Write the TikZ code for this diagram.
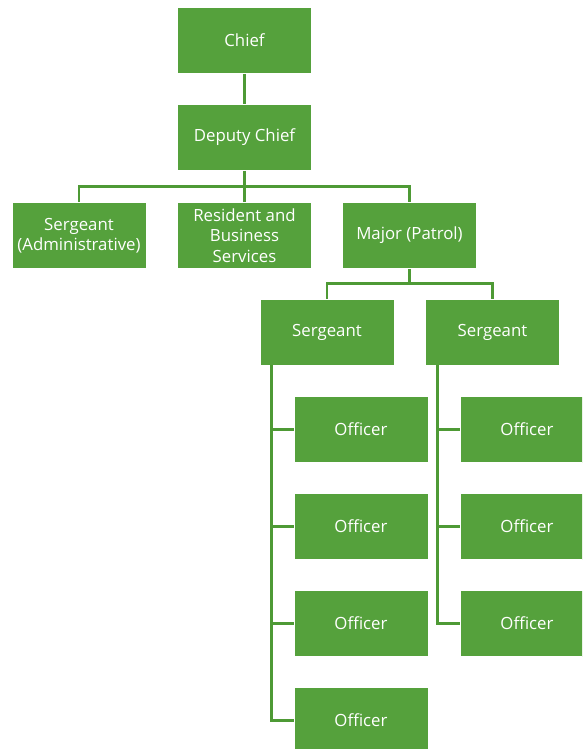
\documentclass[tikz,border=0pt]{standalone}
\usepackage{fontspec}
\setmainfont{Open Sans}
\definecolor{boxgreen}{HTML}{55A13C}
\definecolor{linegreen}{HTML}{4E9A35}
\begin{document}
\begin{tikzpicture}[x=1pt,y=-1pt,
  orgbox/.style={rectangle, fill=boxgreen, draw=white, line width=0.6pt,
    minimum width=134pt, minimum height=66pt, inner sep=2pt,
    text=white, font=\fontsize{16.8}{20.5}\selectfont, align=center},
  link/.style={draw=linegreen, line width=2.6pt}]
  \useasboundingbox (0,0) rectangle (582,749);
  \begin{scope}
  \clip (0,0) rectangle (582,749);
  % top levels
  \node[orgbox] (chief)  at (244.5,40.5)  {Chief};
  \node[orgbox] (deputy) at (244.5,137.5) {Deputy Chief};
  % third row
  \node[orgbox] (sadmin) at (79,235.5)    {Sergeant\\(Administrative)};
  \node[orgbox] (resid)  at (244.5,235.5) {Resident and\\Business\\Services};
  \node[orgbox] (major)  at (409.5,235.5) {Major (Patrol)};
  % patrol sergeants
  \node[orgbox] (sgtA) at (327,332)   {Sergeant};
  \node[orgbox] (sgtB) at (492.5,332) {Sergeant};
  % officers under first sergeant
  \node[orgbox] (oA1) at (361,429.5) {Officer};
  \node[orgbox] (oA2) at (361,526.5) {Officer};
  \node[orgbox] (oA3) at (361,623.5) {Officer};
  \node[orgbox] (oA4) at (361,720.5) {Officer};
  % officers under second sergeant
  \node[orgbox] (oB1) at (527,429.5) {Officer};
  \node[orgbox] (oB2) at (527,526.5) {Officer};
  \node[orgbox] (oB3) at (527,623.5) {Officer};
  \end{scope}

  % connectors
  \coordinate (barY) at (0,186.5);
  \coordinate (barM) at (0,283.5);
  \draw[link] (chief.south) -- (deputy.north);
  \draw[link] (deputy.south) -- (deputy.south |- barY);
  \draw[link] (sadmin.north) -- (sadmin.north |- barY) -- (major.north |- barY) -- (major.north);
  \draw[link] (resid.north) -- (resid.north |- barY);
  \draw[link] (major.south) -- (major.south |- barM);
  \draw[link] (sgtA.north) -- (sgtA.north |- barM) -- (sgtB.north |- barM) -- (sgtB.north);

  \coordinate (trunkA) at ([xshift=12pt]sgtA.south west);
  \coordinate (trunkB) at ([xshift=12pt]sgtB.south west);
  \draw[link] (trunkA) -- (trunkA |- oA4.west) -- (oA4.west);
  \draw[link] (trunkA |- oA1.west) -- (oA1.west);
  \draw[link] (trunkA |- oA2.west) -- (oA2.west);
  \draw[link] (trunkA |- oA3.west) -- (oA3.west);
  \draw[link] (trunkB) -- (trunkB |- oB3.west) -- (oB3.west);
  \draw[link] (trunkB |- oB1.west) -- (oB1.west);
  \draw[link] (trunkB |- oB2.west) -- (oB2.west);
\end{tikzpicture}
\end{document}
